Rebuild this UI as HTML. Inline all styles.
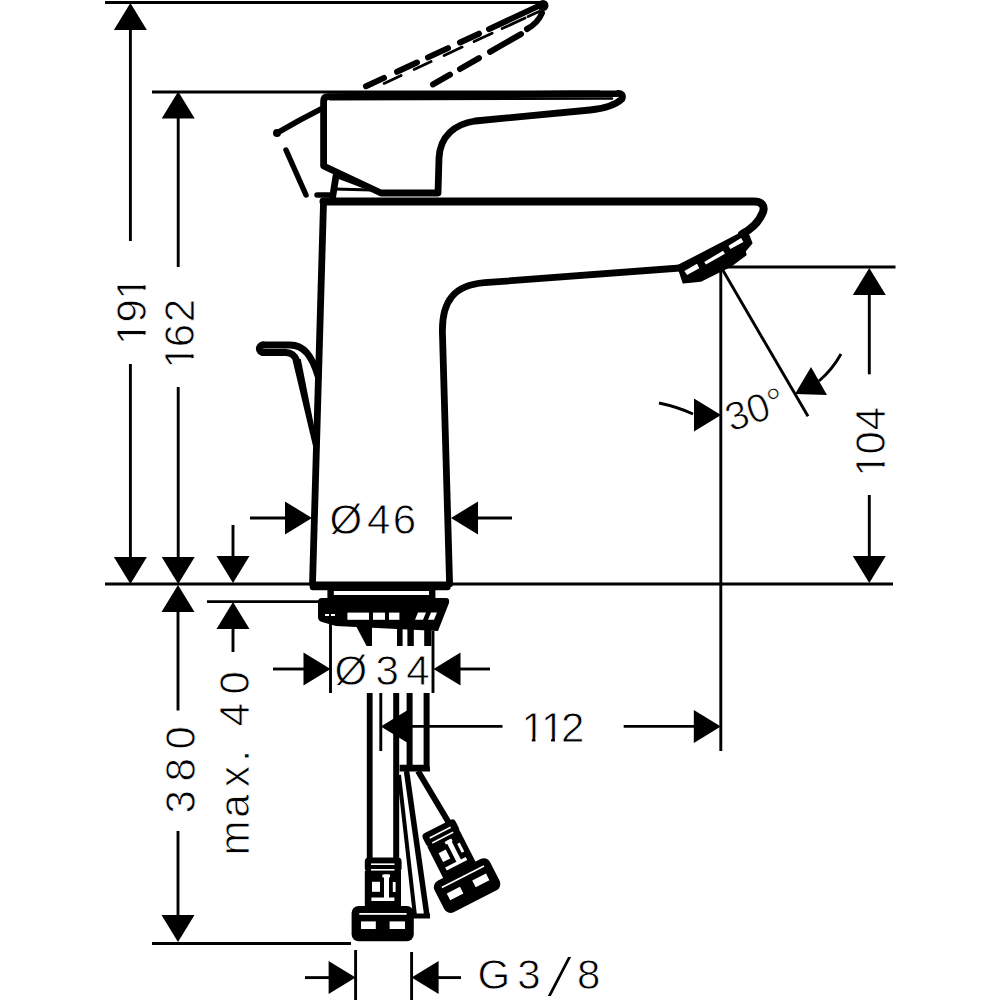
<!DOCTYPE html>
<html><head><meta charset="utf-8"><style>
html,body{margin:0;padding:0;background:#fff;}
svg{display:block;}
text{font-family:"Liberation Sans",sans-serif;fill:#000;stroke:#fff;stroke-width:0.8px;}
</style></head><body>
<svg width="1000" height="1000" viewBox="0 0 1000 1000">
<rect width="1000" height="1000" fill="#fff"/>
<g stroke="#000" stroke-width="2.9" fill="none">
<line x1="105" y1="2.5" x2="543" y2="2.5"/>
<line x1="152" y1="92" x2="600" y2="92"/>
<line x1="130.4" y1="28" x2="130.4" y2="241"/>
<line x1="130.4" y1="364" x2="130.4" y2="560"/>
<line x1="178.2" y1="117" x2="178.2" y2="267"/>
<line x1="178.2" y1="387" x2="178.2" y2="560"/>
<line x1="105" y1="584" x2="893" y2="584"/>
<line x1="178" y1="610" x2="178" y2="710.5"/>
<line x1="178" y1="831" x2="178" y2="918"/>
<line x1="152" y1="943.5" x2="351" y2="943.5"/>
<line x1="233" y1="525" x2="233" y2="558"/>
<line x1="207" y1="601.6" x2="320" y2="601.6"/>
<line x1="233" y1="628" x2="233" y2="652"/>
<line x1="250" y1="518" x2="286" y2="518"/>
<line x1="477" y1="518" x2="512" y2="518"/>
<line x1="330.5" y1="622" x2="330.5" y2="693"/>
<line x1="433" y1="631" x2="433" y2="693"/>
<line x1="273" y1="669" x2="304" y2="669"/>
<line x1="460" y1="669" x2="490" y2="669"/>
<line x1="380.8" y1="693" x2="380.8" y2="751"/>
<line x1="412" y1="726.4" x2="502.5" y2="726.4"/>
<line x1="623.7" y1="726.4" x2="694" y2="726.4"/>
<line x1="720.8" y1="267" x2="720.8" y2="751"/>
<line x1="722" y1="267" x2="895.5" y2="267"/>
<line x1="869.3" y1="294" x2="869.3" y2="374.3"/>
<line x1="869.3" y1="495" x2="869.3" y2="559"/>
<line x1="721" y1="267" x2="808" y2="416.3"/>
<path d="M659,403 Q678,407 693,414" fill="none"/>
<path d="M819,381 Q832,370 841,354" fill="none"/>
<line x1="355.6" y1="950" x2="355.6" y2="1000"/>
<line x1="411.6" y1="952" x2="411.6" y2="1000"/>
<line x1="305" y1="977.6" x2="329" y2="977.6"/>
<line x1="437" y1="977.6" x2="461" y2="977.6"/>
</g>
<g fill="#000">
<polygon points="130.4,3 113.9,30 146.9,30"/>
<polygon points="130.4,584 113.9,557 146.9,557"/>
<polygon points="178.2,91.5 161.7,118.5 194.7,118.5"/>
<polygon points="178.2,584 161.7,557 194.7,557"/>
<polygon points="178,585 161.5,612 194.5,612"/>
<polygon points="178,942 161.5,915 194.5,915"/>
<polygon points="233,583 216.5,556 249.5,556"/>
<polygon points="233,602 216.5,629 249.5,629"/>
<polygon points="312,518 285,501.5 285,534.5"/>
<polygon points="451,518 478,501.5 478,534.5"/>
<polygon points="330.5,669 303.5,652.5 303.5,685.5"/>
<polygon points="433.5,669 460.5,652.5 460.5,685.5"/>
<polygon points="380.8,726.4 407.8,709.9 407.8,742.9"/>
<polygon points="720.8,726.4 693.8,709.9 693.8,742.9"/>
<polygon points="869.3,268 852.8,295 885.8,295"/>
<polygon points="869.3,583 852.8,556 885.8,556"/>
<polygon points="721,415 694,398.5 694,431.5"/>
<polygon points="795,394 811,367 827,395"/>
<polygon points="355.6,977.6 328.6,961.1 328.6,994.1"/>
<polygon points="411.6,977.6 438.6,961.1 438.6,994.1"/>
</g>
<!-- dashed lever -->
<g stroke="#000" fill="none" stroke-linecap="round">
<path d="M366.0,86.2 L384.0,77.9 M397.0,71.8 L417.0,62.5 M428.0,57.4 L448.0,48.1 M460.0,42.5 L479.0,33.7 M489.0,29.1 L541.0,4.9 " stroke-width="6"/>
<path d="M384.1,83.4 L401.1,75.5 M414.1,69.4 L431.1,61.5 M444.1,55.5 L462.1,47.1 M474.1,41.6 L492.1,33.2 M502.1,28.6 L525.1,17.9 M528.1,16.5 L539.1,11.4 " stroke-width="2.8"/>
<path d="M433.0,84.4 L450.0,74.7 M460.0,69.0 L479.0,58.1 M490.0,51.8 L521.0,34.1 M527,29 Q538,23 542,13" stroke-width="6"/>
<path d="M277,133 L300,120 M300,120 L321,109" stroke-width="5.5"/>
<path d="M286,150 L306,195" stroke-width="5.5"/>
<path d="M317,195 L329,195" stroke-width="5.5"/>
</g>
<circle cx="543" cy="5.5" r="5.5"/>
<circle cx="277" cy="133" r="4"/>
<!-- lever -->
<g stroke="#000" fill="none" stroke-width="6.8" stroke-linejoin="round" stroke-linecap="round">
<path d="M323.6,101.5 Q323.6,96.6 328,96.6 L617,93.5 Q624,93 622,99 Q612,108 590,110 L475,121 C455,124 440,136 439,158 L438,193 L381,193 L323.6,166 Z"/>
<path d="M330,99.3 L612,98.5" stroke-width="2.6"/>
<path d="M336,176 L332,201"/>
<path d="M336,176 L376,191" stroke-width="4"/>
<path d="M334,189 L372,190" stroke-width="3"/>
</g>
<!-- body -->
<g stroke="#000" fill="none" stroke-width="6.8" stroke-linejoin="round" stroke-linecap="round">
<path d="M323.5,203 L312.5,584"/>
<path d="M323.5,201.5 L754,201.5 C762,201.5 765,206 763,212 C759,222 752,229 742,234" stroke-width="8"/>
<path d="M449.6,584 L442.5,335 C441,300 455,285 484.6,282.7 L680,268"/>
<path d="M263,345 L290,345 C304,345 312,356 318,376"/>
<path d="M263,352.5 L286,352.5 C292,352.5 295,356 297,361"/>
<polygon points="292.6,360.5 300.8,359 317,441 313,446" stroke="none" fill="#000"/>
<path d="M263,345 A3.75,3.75 0 0 0 263,352.5"/>
</g>
<rect x="309.8" y="581.4" width="140.8" height="8.8" rx="3"/>
<!-- aerator -->
<path d="M678,266 L746.5,230.4 L751.5,243 L744.7,251.1 L745.6,254.7 L731.2,265.5 L700.6,280.8 L683.5,282.6 Z" stroke="#000" stroke-width="2" stroke-linejoin="round"/>
<polygon fill="#fff" points="684.4,270.9 687.1,275 699.3,268.2 697,263.7"/>
<polygon fill="#fff" points="704.2,261.9 706,264.6 724.9,253.8 723.1,250.7"/>
<polygon fill="#fff" points="728.5,245.7 730.3,248.9 743.4,242.1 741.1,238"/>
<!-- washer & nut -->
<rect x="327.4" y="588" width="108" height="10"/>
<rect x="333.8" y="591" width="95.2" height="4" fill="#fff"/>
<path d="M322,598 L446,598 Q450,598 449,603 L438,631 L336,626 L322,622 Q318,621 318,617 L318,602 Q318,598 322,598 Z"/>
<rect x="347.4" y="612.6" width="21.6" height="7.2" fill="#fff"/>
<rect x="373" y="612.6" width="12" height="7.2" fill="#fff"/>
<rect x="389" y="612.6" width="10.4" height="7.2" fill="#fff"/>
<polygon points="418,612.6 426,612.6 423,619.8 415,619.8" fill="#fff"/>
<polygon points="431,612.6 437,612.6 434,619.8 428,619.8" fill="#fff"/>
<rect x="325" y="614" width="4" height="2" fill="#fff"/>
<rect x="331" y="614" width="4" height="2" fill="#fff"/>
<polygon points="356,626 372,626 372,646 366.6,646"/>
<rect x="397" y="626" width="5.6" height="20"/>
<rect x="407.4" y="626" width="6.4" height="20"/>
<rect x="424.2" y="626" width="7.2" height="20"/>
<!-- hoses -->
<rect x="366.8" y="693" width="5.8" height="166"/>
<rect x="393.2" y="693" width="6" height="166"/>
<rect x="406.6" y="693" width="6" height="76"/>
<rect x="423.6" y="693" width="6" height="76"/>
<path d="M399.6,764.8 L426,764.8 Q430,764.8 430,768.8 L430,771.6 L399.6,771.6 Z"/>
<g stroke="#000" fill="none" stroke-linecap="butt">
<path d="M399,775 L415,916" stroke-width="4"/>
<path d="M406.5,771 L427,916" stroke-width="5.5"/>
<path d="M413,916 L430,916" stroke-width="5"/>
<path d="M418,771 L449,823" stroke-width="6"/>
</g>
<!-- connector -->
<g id="conn">
<rect x="364.8" y="857.6" width="36.8" height="14.4" rx="4"/>
<rect x="371" y="863.4" width="23.5" height="1.6" fill="#fff"/>
<rect x="371" y="869" width="23.5" height="1.6" fill="#fff"/>
<rect x="364.8" y="871" width="36.2" height="37"/>
<rect x="382.4" y="874.5" width="7.6" height="3" fill="#fff"/>
<rect x="384" y="874.5" width="5" height="25" fill="#fff"/>
<rect x="371.4" y="897.5" width="23" height="3.5" fill="#fff"/>
<rect x="372" y="881.8" width="8" height="10" fill="#fff"/>
<rect x="392.8" y="882" width="2.8" height="10" fill="#fff"/>
<rect x="351.6" y="906" width="62.2" height="35.2" rx="7"/>
<rect x="359.3" y="913" width="47.3" height="1.8" fill="#fff"/>
<rect x="361" y="921.4" width="14.8" height="7.6" fill="#fff"/>
<rect x="389.6" y="921.4" width="15.4" height="7.6" fill="#fff"/>
</g>
<use href="#conn" transform="translate(437.4,826.6) rotate(-27) translate(-383,-857.6)"/>

<g font-size="42">
<g transform="translate(146,345) rotate(-90)"><text dx="0 -0.75 -0.75">191</text><path fill="#fff" d="M2,-4.6H10.4V1H2Z M14.1,-4.6H21.5V1H14.1Z M47,-4.6H55.6V1H47Z M59.6,-4.6H67V1H59.6Z"/></g>
<g transform="translate(194,368.5) rotate(-90)"><text dx="0 -2 1.5">162</text><path fill="#fff" d="M2,-4.6H10.4V1H2Z M14.1,-4.6H21.5V1H14.1Z"/></g>
<text transform="translate(194.5,813.6) rotate(-90)" dx="0 8.7 8.7">380</text>
<text transform="translate(249,855.6) rotate(-90)" dx="0 2.85 7.3 4.25 0 12.35 8.3" xml:space="preserve">max. 40</text>
<g transform="translate(884.5,476.7) rotate(-90)"><text dx="0 -1.2 0.9">104</text><path fill="#fff" d="M2,-4.6H10.4V1H2Z M14.1,-4.6H21.5V1H14.1Z"/></g>
<text x="329.5" y="533.5" dx="0 4.75 2.5">Ø46</text>
<text x="334.4" y="685" dx="0 8.5 7.3">Ø34</text>
<g transform="translate(521.4,742)"><text dx="0 -0.6 -3.4">112</text><path fill="#fff" d="M2,-4.6H10.4V1H2Z M14.1,-4.6H21.5V1H14.1Z M22,-4.6H29.6V1H22Z M33.6,-4.6H41V1H33.6Z"/></g>
<text x="477.5" y="988.5" dx="0 7">G3</text><text transform="translate(547,996) skewX(-14) scale(1.3)">/</text><text x="577" y="988.5">8</text>
</g>
<text transform="translate(731,432) rotate(-19)" font-size="40">30°</text>

</svg>
</body></html>
